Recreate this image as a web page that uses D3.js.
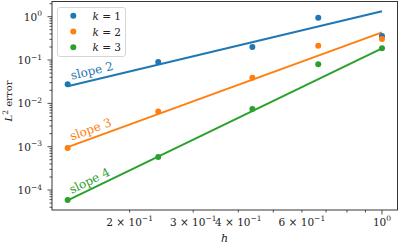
<!DOCTYPE html>
<html>
<head>
<meta charset="utf-8">
<script src="https://d3js.org/d3.v7.min.js"></script>
<style>
  body { margin: 0; background: #fff; }
</style>
</head>
<body>
<svg id="chart"></svg>
<script>
// mesh sizes and L2 errors per polynomial degree k
var hValues = [0.1347, 0.240, 0.4375, 0.666, 1.0];
var errK1 = [0.0275, 0.090, 0.200, 0.950, 0.360];
var errK2 = [0.00093, 0.0065, 0.039, 0.214, 0.305];
var errK3 = [0.0000585, 0.00058, 0.0074, 0.080, 0.186];

// fitted reference lines: value at smallest h and at largest h
var fitK1 = [0.0248, 1.33];
var fitK2 = [0.00098, 0.435];
var fitK3 = [0.0000575, 0.186];

var seriesNames = ["k = 1", "k = 2", "k = 3"];
var slopeLabels = ["slope 2", "slope 3", "slope 4"];
var colors = ["#1f77b4", "#ff7f0e", "#2ca02c"];

var xTickValues = [0.2, 0.3, 0.4, 0.6, 1.0];
var xTickLabels = [["2 × 10", "−1"], ["3 × 10", "−1"], ["4 × 10", "−1"], ["6 × 10", "−1"], ["10", "0"]];
var yTickValues = [1, 0.1, 0.01, 0.001, 0.0001];
var yTickLabels = ["0", "−1", "−2", "−3", "−4"];

var W = 400, H = 247;
var margin = {top: 1.5, right: 2.5, bottom: 37, left: 52};
var serif = "DejaVu Serif";

var svg = d3.select("#chart").attr("width", W).attr("height", H);

var x = d3.scaleLog().domain([0.1219, 1.104]).range([margin.left, W - margin.right]);
var y = d3.scaleLog().domain([3.46e-5, 2.24]).range([H - margin.bottom, margin.top]);

var errs = [errK1, errK2, errK3];
var fits = [fitK1, fitK2, fitK3];

// minor ticks
var minorX = [0.2, 0.3, 0.4, 0.5, 0.6, 0.7, 0.8, 0.9];
var minorY = [];
[-5, -4, -3, -2, -1, 0].forEach(function(e) {
  for (var m = 2; m <= 9; m++) {
    var v = m * Math.pow(10, e);
    if (v > y.domain()[0] && v < y.domain()[1]) minorY.push(v);
  }
});

var axisG = svg.append("g");
var bottomY = H - margin.bottom;

minorX.forEach(function(v) {
  axisG.append("line").attr("x1", x(v)).attr("x2", x(v))
    .attr("y1", bottomY).attr("y2", bottomY + 2.5)
    .attr("stroke", "#222").attr("stroke-width", 0.8);
});
axisG.append("line").attr("x1", x(1)).attr("x2", x(1))
  .attr("y1", bottomY).attr("y2", bottomY + 4.5)
  .attr("stroke", "#222").attr("stroke-width", 0.8);

minorY.forEach(function(v) {
  axisG.append("line").attr("x1", margin.left - 2.5).attr("x2", margin.left)
    .attr("y1", y(v)).attr("y2", y(v))
    .attr("stroke", "#222").attr("stroke-width", 0.8);
});
yTickValues.forEach(function(v) {
  axisG.append("line").attr("x1", margin.left - 4.5).attr("x2", margin.left)
    .attr("y1", y(v)).attr("y2", y(v))
    .attr("stroke", "#222").attr("stroke-width", 0.8);
});

// tick labels
xTickValues.forEach(function(v, i) {
  var t = axisG.append("text").attr("x", x(v)).attr("y", bottomY + 15.5)
    .attr("text-anchor", "middle").style("font-family", serif).style("font-size", "10.5px").attr("fill", "#222");
  t.append("tspan").text(xTickLabels[i][0]);
  t.append("tspan").attr("dy", -4.5).style("font-size", "7.5px").text(xTickLabels[i][1]);
});
yTickValues.forEach(function(v, i) {
  var t = axisG.append("text").attr("x", margin.left - 10).attr("y", y(v) + 4)
    .attr("text-anchor", "end").style("font-family", serif).style("font-size", "10.5px").attr("fill", "#222");
  t.append("tspan").text("10");
  t.append("tspan").attr("dy", -4.5).style("font-size", "7.5px").text(yTickLabels[i]);
});

// axis labels
svg.append("text").attr("x", 224.5).attr("y", 241.5).attr("text-anchor", "middle")
  .style("font-family", serif).style("font-size", "11px").style("font-style", "italic")
  .attr("fill", "#222").text("h");

var yl = svg.append("text").attr("transform", "translate(12,101) rotate(-90)")
  .attr("text-anchor", "middle").style("font-family", serif).style("font-size", "10px").attr("fill", "#222");
yl.append("tspan").style("font-style", "italic").text("L");
yl.append("tspan").attr("dy", -4.5).style("font-size", "7.5px").text("2");
yl.append("tspan").attr("dy", 4.5).text(" error");

// fitted lines, points and slope labels
var plot = svg.append("g");
var hEnds = [hValues[0], hValues[hValues.length - 1]];

fits.forEach(function(f, i) {
  var x0 = x(hEnds[0]), y0 = y(f[0]), x1 = x(hEnds[1]), y1 = y(f[1]);
  plot.append("line").attr("x1", x0).attr("y1", y0).attr("x2", x1).attr("y2", y1)
    .attr("stroke", colors[i]).attr("stroke-width", 2);
  var ang = Math.atan2(y1 - y0, x1 - x0) * 180 / Math.PI;
  plot.append("text")
    .attr("transform", "translate(" + (x0 + 4) + "," + (y0 - 6.5) + ") rotate(" + ang + ")")
    .style("font-family", serif).style("font-size", "12px").attr("fill", colors[i]).text(slopeLabels[i]);
});

errs.forEach(function(e, i) {
  plot.selectAll(".dot" + i).data(e).enter().append("circle")
    .attr("cx", function(d, j) { return x(hValues[j]); })
    .attr("cy", function(d) { return y(d); })
    .attr("r", 3).attr("fill", colors[i]);
});

// frame
svg.append("rect").attr("x", margin.left).attr("y", margin.top)
  .attr("width", W - margin.left - margin.right).attr("height", H - margin.top - margin.bottom)
  .attr("fill", "none").attr("stroke", "#222").attr("stroke-width", 0.9);

// legend
var lg = svg.append("g");
lg.append("rect").attr("x", 57.5).attr("y", 7.5).attr("width", 68).attr("height", 49)
  .attr("rx", 2.5).attr("fill", "#fff").attr("fill-opacity", 0.8)
  .attr("stroke", "#ccc").attr("stroke-width", 0.8);
seriesNames.forEach(function(n, i) {
  var cy = 15.7 + i * 15.8;
  lg.append("circle").attr("cx", 73.3).attr("cy", cy).attr("r", 3).attr("fill", colors[i]);
  var t = lg.append("text").attr("x", 92.5).attr("y", cy + 4)
    .style("font-family", serif).style("font-size", "10.5px").attr("fill", "#222");
  t.append("tspan").style("font-style", "italic").text(n.slice(0, 1));
  t.append("tspan").text(n.slice(1));
});
</script>
</body>
</html>
